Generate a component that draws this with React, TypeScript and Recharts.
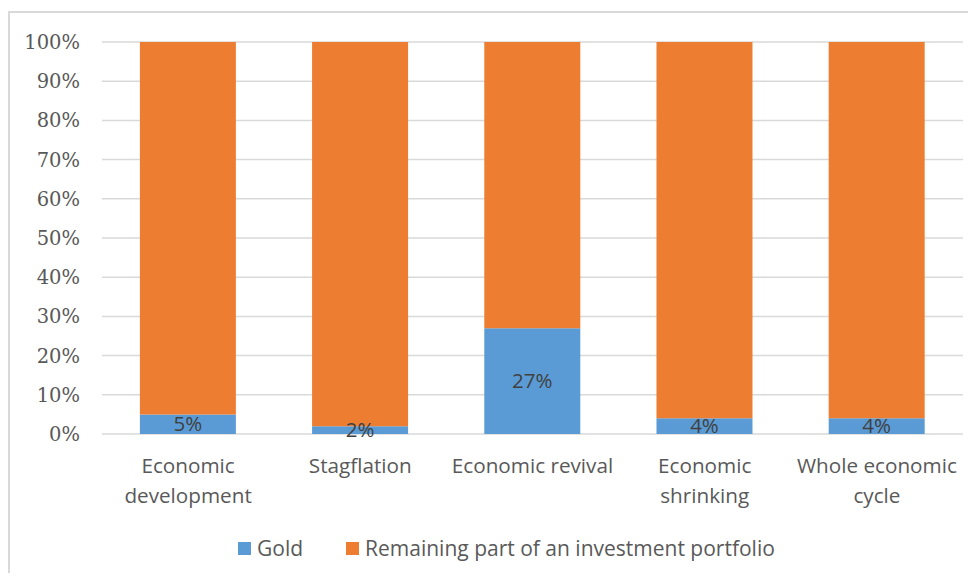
import React from "react";
import { BarChart, Bar, XAxis, YAxis, CartesianGrid, LabelList } from "recharts";

const categories = ["Economic development", "Stagflation", "Economic revival", "Economic shrinking", "Whole economic cycle"];
const categoryLines = [["Economic", "development"], ["Stagflation"], ["Economic revival"], ["Economic", "shrinking"], ["Whole economic", "cycle"]];
const gold = [5, 2, 27, 4, 4];
const remaining = [95, 98, 73, 96, 96];
const yTicks = [0, 10, 20, 30, 40, 50, 60, 70, 80, 90, 100];

const data = categories.map((c, i) => ({ name: c, gold: gold[i], rest: remaining[i], idx: i }));

const BLUE = "#5B9BD5";
const ORANGE = "#ED7D31";
const SANS = "'Open Sans', 'Noto Sans', sans-serif";

const XTick = (props: any) => {
  const { x, y, index } = props;
  const lines = categoryLines[index] || [];
  return (
    <g>
      {lines.map((l, i) => (
        <text key={i} x={x} y={y + 31 + i * 30} textAnchor="middle" fill="#595959" fontSize={20.7} fontFamily={SANS}>
          {l}
        </text>
      ))}
    </g>
  );
};

const Legend = () => (
  <div style={{ position: "absolute", top: 534, left: 238, display: "flex", fontFamily: SANS, fontSize: 21, color: "#595959", whiteSpace: "nowrap" }}>
    <div style={{ display: "flex", alignItems: "center", marginRight: 43 }}>
      <span style={{ width: 13, height: 13, background: BLUE, display: "inline-block", marginRight: 6 }} />
      <span>Gold</span>
    </div>
    <div style={{ display: "flex", alignItems: "center" }}>
      <span style={{ width: 13, height: 13, background: ORANGE, display: "inline-block", marginRight: 6 }} />
      <span>Remaining part of an investment portfolio</span>
    </div>
  </div>
);

export default function App() {
  return (
    <div style={{ position: "relative", width: 976, height: 581, margin: -8, background: "#fff", overflow: "hidden" }}>
      <div style={{ position: "absolute", left: 8, top: 11, width: 1000, height: 1000, border: "2px solid #D9D9D9", boxSizing: "border-box" }} />
      <div style={{ position: "absolute", left: 0, top: 0 }}>
        <BarChart width={976} height={581} data={data} margin={{ top: 42, right: 13, bottom: 146, left: 0 }} barCategoryGap="22%">
          <CartesianGrid vertical={false} stroke="#D9D9D9" strokeWidth={1.5} />
          <XAxis dataKey="name" axisLine={false} tickLine={false} tick={<XTick />} interval={0} height={1} />
          <YAxis
            width={102}
            domain={[0, 100]}
            ticks={yTicks}
            axisLine={false}
            tickLine={false}
            tickMargin={16}
            tickFormatter={(v: number) => `${v}%`}
            tick={{ fill: "#595959", fontSize: 19.5, fontFamily: "'DejaVu Serif', serif" }}
          />
          <Bar dataKey="gold" stackId="a" fill={BLUE} isAnimationActive={false}>
            <LabelList dataKey="gold" position="center" formatter={(v: any) => `${v}%`} fill="#404040" fontSize={20.5} fontFamily={SANS} />
          </Bar>
          <Bar dataKey="rest" stackId="a" fill={ORANGE} isAnimationActive={false} />
        </BarChart>
      </div>
      <Legend />
    </div>
  );
}
